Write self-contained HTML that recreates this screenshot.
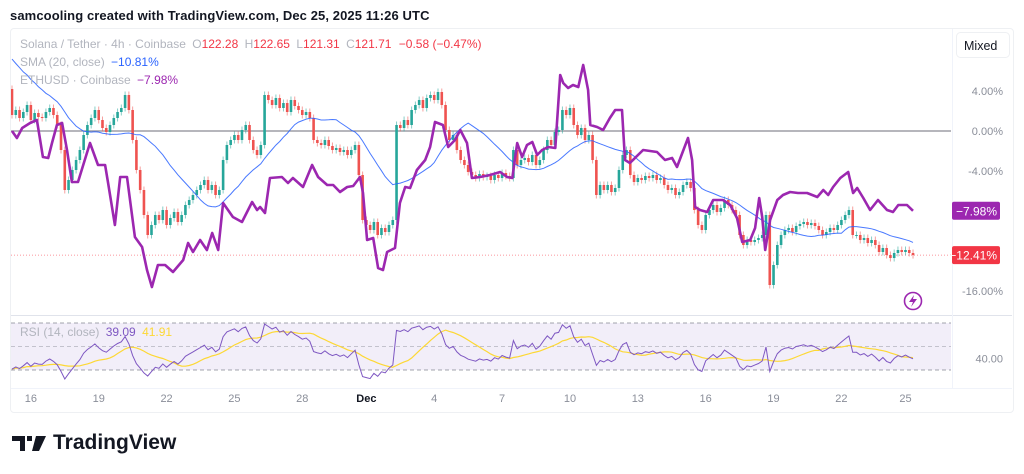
<!DOCTYPE html>
<html><head><meta charset="utf-8">
<style>
body{margin:0;background:#fff;width:1024px;height:474px;overflow:hidden;font-family:"Liberation Sans",sans-serif;position:relative}
#hdr{position:absolute;left:10px;top:8px;font-size:13px;color:#131722;font-weight:bold;letter-spacing:0.1px}
#frame{position:absolute;left:10px;top:28px;width:1002px;height:383px;border:1px solid #eef0f3;border-radius:4px}
svg{position:absolute;left:0;top:0}
#logo{position:absolute;left:12px;top:431px;font-size:21px;font-weight:bold;color:#131722;display:flex;align-items:center;gap:7px}
</style></head><body>
<div id="hdr">samcooling created with TradingView.com, Dec 25, 2025 11:26 UTC</div>
<div id="frame"></div>
<svg id="chart" width="1024" height="474"></svg>
<div id="logo"><svg width="34" height="18" style="position:static"><path d="M0 2h13v15h-5V7H0z M15 2h5v5h-5z M24 2h10l-7 15h-7z" fill="#131722"/></svg><span>TradingView</span></div>
<script>
// ---- data (percent change) ----
const priorCloses=[11,9.5,10.5,8.8,10,8.2,9.4,7.8,8.6,7,8,6.4,7.2,5.6,6.5,4.6,5.4,3.6,4.2];
const closes=[1.6,2.1,1.3,1.9,2.6,1.1,1.8,1.4, 1.3,1.9,2.3,1.6,0.6, -1.9,-5.9,-4.9, -3.9,-2.9,-1.9, -0.4,0.6,1.3,2.1,1.1, 0.3,-0.1,0.6, 1.3,1.9,2.3,3.6, 2.1,-0.9,-3.9, -5.9,-8.4,-10.4,-9.4,
-8.4,-8.9,-7.9,-9.4,-8.7,-8.1,-9.1,-8.4, -7.4,-6.9,-6.4,-5.9,-5.4, -4.9,-5.9,-5.4,-6.4,-5.9, -2.9,-1.4,-0.9, -0.4,-0.9,0.1,0.6,-0.9,-1.9,-2.4,-1.4, 3.6,
3.1,2.6,3.3,2.3,2.8,1.9,3.1,2.5,2.1, 1.6,1.9,1.3,-0.9, -1.2,-1.4,-0.9,-1.5,-1.9,-1.7, -2.1,-1.9,-2.4,-1.9,-1.4, -4.4,-8.9,
-9.4,-9.9,-9.1,-10.4,-9.7,-10.1,-9.4,-8.9, 0.6, 0.3,1.1,0.6,2.1,2.6,3.1,2.3,3.3, 3.6,3.1,3.9, 2.6,0.1,-0.9, -0.4,-1.9,-2.9,-3.4,-4.1,
-4.4,-4.7,-4.3,-4.6,-4.5,-4.9,-4.4,-4.7,-4.2,-4.5,-4.7, -1.9,-3.4,-2.9, -2.7,-3.1,-2.4,-3.4,-2.9, -1.9,-0.9,-1.4,-0.1,0.1, 2.1,1.6,2.3,
0.6,-0.4,0.3,-0.9,-0.4, -2.9,-6.4,-5.4, -5.9,-5.4,-6.1,-5.7, -3.9,-2.4,-1.9, -4.4,-5.1,-4.7,-4.9, -4.5,-4.7,-4.4,-4.9,-4.7,
-5.4,-5.9,-5.7,-6.4,-6.1, -5.4,-5.1,-5.7, -7.9,-9.4,-9.9, -8.4,-7.9,-7.4,-8.1,-7.7, -6.9,-7.4,-7.9,-8.4, -10.4,-11.4,-10.9,
-11.1,-10.9,-10.7,-10.4, -8.4, -15.4, -13.4,-11.4,-10.4, -9.9,-9.7,-10.1,-9.5, -9.3,-9.1,-9.4,-9.2,-9.5, -9.9,-10.4,-10.1,-9.7,-9.9,
-9.4,-8.9,-8.4,-7.9, -10.4, -10.4,-10.9,-10.7,-11.2,-10.9, -11.4,-12.1,-11.7,-12.4, -12.7,-12.2,-11.9,-12.1,-11.9,-12.2,-12.41];
// ETH: [candle index, percent]
const eth=[[0,0],[1.3,-0.7],[2.7,0.3],[4.8,0.8],[6.6,1.1],[8.2,-2.6],[9.6,-2.7],[10.6,-1.2],[11.9,0.6],[13.3,0.8],[14.6,-1.9],[15.9,-5.1],[17.5,-5.1],[20.7,-1.2],[22.8,-3.4],[24.7,-3.4],[25.5,-5.2],[27.3,-9.4],[28.7,-4.6],[30.5,-4.6],[32.6,-10.6],[34.5,-11.6],[35.8,-13.9],[37.1,-15.6],[38.7,-13.4],[40.6,-13.4],[42.7,-14.1],[45.4,-12.9],[46.7,-11.2],[48,-12.1],[49.9,-10.9],[51.7,-11.9],[53.1,-10.2],[54.7,-11.9],[56,-7.2],[58.6,-8.6],[61,-9.1],[63.7,-7.1],[65,-7.9],[65.8,-7.6],[67.1,-8.2],[68.4,-4.7],[71.6,-4.6],[73.2,-5.2],[74.5,-4.7],[77.2,-5.6],[79.6,-3.4],[81.2,-4.6],[83.6,-5.4],[85.2,-5.4],[87,-6.1],[88.9,-5.6],[90.5,-5.5],[92.3,-4.6],[93.1,-6.2],[94.2,-10.9],[95.8,-10.7],[97.1,-13.7],[98.4,-13.9],[99.5,-12.1],[101.6,-11.7],[102.9,-7.2],[104.3,-5.6],[105.6,-5.7],[107.4,-3.9],[109.6,-2.9],[110.9,-1.6],[112.2,0.9],[114.3,0.6],[115.7,-1.6],[117.5,-0.9],[118.9,0.1],[120.7,-1.2],[122,-4.7],[124.2,-4.6],[126.8,-4.4],[129.5,-4.1],[131.3,-4.6],[132.7,-4.7],[134,-1.2],[135.3,-2.6],[136.6,-1.4],[138,-1.1],[139.3,-2.4],[140.6,-1.9],[142.2,-1.6],[144.1,-1.7],[145.4,5.6],[146.2,4.8],[147.5,4.3],[148.8,4.6],[150.2,4.4],[151.5,6.6],[152.8,4.1],[153.4,0.6],[155.2,0.4],[156.8,0.1],[158.6,1.3],[160,2.1],[161.8,2.1],[162.6,-2.9],[163.9,-3.2],[167.4,-1.9],[171.1,-2.1],[173.2,-2.9],[175.1,-2.7],[176.4,-3.6],[177.8,-2.2],[179.3,-0.7],[180.4,-2.9],[181.2,-7.6],[182.5,-7.9],[184.4,-8.1],[186,-6.9],[188.6,-6.9],[190.5,-7.4],[192.3,-8.7],[193.7,-11.1],[195.8,-10.9],[197.1,-9.7],[198.2,-6.7],[199,-8.6],[199.8,-11.9],[201.1,-8.9],[203,-6.9],[204.5,-6.4],[206.4,-6.1],[208.5,-6.2],[210.9,-6.2],[213.6,-6.6],[215.2,-5.9],[216.5,-6.4],[217.8,-5.6],[219.7,-4.7],[221.8,-4.1],[223.1,-6.2],[224.2,-5.7],[225.8,-6.7],[227.6,-7.9],[229.7,-6.9],[232.1,-7.9],[233.7,-8.1],[235.1,-7.4],[237.4,-7.4],[239,-7.98]];
const priceTicks=[4,0,-4,-16];
const dateLabels=["16","19","22","25","28","Dec","4","7","10","13","16","19","22","25"];
const dateCandle=[5,23,41,59,77,94,112,130,148,166,184,202,220,237];

// ---- axes ----
const X0=12, DX=3.77;
const xs=i=>X0+i*DX;
const ys=p=>131-p*10;
const yr=v=>323+(70-v)*(47/40);
const NS='http://www.w3.org/2000/svg';
const svg=document.getElementById('chart');
function mk(t,a,parent){const e=document.createElementNS(NS,t);for(const k in a)e.setAttribute(k,a[k]);(parent||svg).appendChild(e);return e;}

const defs=mk('defs',{});const cp=mk('clipPath',{id:'pc'},defs);mk('rect',{x:11,y:29,width:941,height:286},cp);
const cp2=mk('clipPath',{id:'rc'},defs);mk('rect',{x:11,y:316,width:941,height:72},cp2);

let e=mk('line',{x1:11,y1:315.5,x2:1012,y2:315.5,stroke:'#e0e3eb'});

e=mk('line',{x1:952.5,y1:29,x2:952.5,y2:388,stroke:'#f0f3fa'});
e=mk('line',{x1:11,y1:388.5,x2:1012,y2:388.5,stroke:'#f0f3fa'});

e=mk('line',{x1:11,y1:ys(0),x2:951,y2:ys(0),stroke:'#8a8a94','stroke-width':1.2});


priceTicks.forEach(p=>{const t=mk('text',{x:1003,y:ys(p)+4,'text-anchor':'end','font-size':11,fill:'#8a8e99'});t.textContent=p.toFixed(2)+'%';
});

const last=closes[closes.length-1];
e=mk('line',{x1:11,y1:ys(last),x2:951,y2:ys(last),stroke:'#f7525f','stroke-dasharray':'1 2','stroke-width':0.8,opacity:0.8});


const g=mk('g',{'clip-path':'url(#pc)'});

closes.forEach((c,i)=>{const o=i?closes[i-1]:priorCloses[priorCloses.length-1];
 const up=c>=o, col=up?'#26a69a':'#ef5350';
 const hi=Math.max(o,c)+0.35, lo=Math.min(o,c)-0.35;
 const x=xs(i);
 mk('line',{x1:x,y1:ys(hi),x2:x,y2:ys(lo),stroke:col,'stroke-width':1,opacity:0.55},g);
 const r=mk('rect',{x:x-1.3,y:ys(Math.max(o,c)),width:2.6,height:Math.max(1,Math.abs(o-c)*10),fill:col},g);
 
});
const all=priorCloses.concat(closes);const P=priorCloses.length;
let smaPts=[];
closes.forEach((c,i)=>{const j=i+P;const s=all.slice(Math.max(0,j-19),j+1);const m=s.reduce((a,b)=>a+b,0)/s.length;smaPts.push(xs(i).toFixed(1)+','+ys(m).toFixed(1));});
e=mk('polyline',{points:smaPts.join(' '),fill:'none',stroke:'#2962ff','stroke-width':1,opacity:0.85},g);

e=mk('polyline',{points:eth.map(d=>xs(d[0]).toFixed(1)+','+ys(d[1]).toFixed(1)).join(' '),fill:'none',stroke:'#9c27b0','stroke-width':2.6,'stroke-linejoin':'round'},g);


function badge(p,txt,col,name){const y=ys(p);const r=mk('rect',{x:952,y:y-9,width:48,height:18,rx:2,fill:col});
 
 const t=mk('text',{x:997,y:y+4.5,'text-anchor':'end','font-size':12,fill:'#fff'});t.textContent=txt;}
badge(eth[eth.length-1][1],'−7.98%','#9c27b0','eth-last-badge');
badge(last,'−12.41%','#f23645','price-last-badge');

e=mk('circle',{cx:913,cy:301,r:8.5,fill:'none',stroke:'#9c27b0','stroke-width':1.6});

mk('path',{d:'M914 295 L909 302 L913 302 L911 307 L917 299 L913 299 Z',fill:'#9c27b0'});

// RSI pane
e=mk('rect',{x:11,y:yr(70),width:940,height:yr(30)-yr(70),fill:'#7e57c2','fill-opacity':0.1});

[70,50,30].forEach(v=>mk('line',{x1:11,y1:yr(v),x2:951,y2:yr(v),stroke:'#787b86','stroke-dasharray':'4 3','stroke-width':0.8,opacity:v==50?0.5:0.9}));
let ag=0,al=0,rsi=[];
for(let j=1;j<all.length;j++){const d=(all[j]-all[j-1]);const gn=Math.max(d,0),ls=Math.max(-d,0);
 if(j<=14){ag+=gn/14;al+=ls/14;}else{ag=(ag*13+gn)/14;al=(al*13+ls)/14;}
 if(j>=P){rsi.push(al===0?100:100-100/(1+ag/al));}}
rsi=rsi.slice(-closes.length);
const rsiMa=rsi.map((v,i)=>{const s=rsi.slice(Math.max(0,i-13),i+1);return s.reduce((a,b)=>a+b,0)/s.length;});
const rg=mk('g',{'clip-path':'url(#rc)'});
e=mk('polyline',{points:rsiMa.map((v,i)=>xs(i).toFixed(1)+','+yr(v).toFixed(1)).join(' '),fill:'none',stroke:'#fdd835','stroke-width':1.2},rg);

e=mk('polyline',{points:rsi.map((v,i)=>xs(i).toFixed(1)+','+yr(v).toFixed(1)).join(' '),fill:'none',stroke:'#7e57c2','stroke-width':1},rg);

e=mk('text',{x:1003,y:yr(40)+4,'text-anchor':'end','font-size':11,fill:'#8a8e99'});e.textContent='40.00';


dateLabels.forEach((l,k)=>{const t=mk('text',{x:xs(dateCandle[k]),y:402,'text-anchor':'middle','font-size':11,fill:l=='Dec'?'#131722':'#8a8e99','font-weight':l=='Dec'?'bold':'normal'});t.textContent=l;
 });

function txt(x,y,s,col,name,size){const t=mk('text',{x:x,y:y,'font-size':size||11.5,fill:col});t.textContent=s;if(name){}return t;}
const l1=mk('text',{x:20,y:48,'font-size':12,fill:'#b2b5be'});

l1.innerHTML='Solana / Tether · 4h · Coinbase  <tspan dx="3">O</tspan><tspan fill="#f23645">122.28</tspan> <tspan dx="3">H</tspan><tspan fill="#f23645">122.65</tspan> <tspan dx="3">L</tspan><tspan fill="#f23645">121.31</tspan> <tspan dx="3">C</tspan><tspan fill="#f23645">121.71</tspan> <tspan dx="4" fill="#f23645">−0.58 (−0.47%)</tspan>';
const l2=mk('text',{x:20,y:66,'font-size':12,fill:'#b2b5be'});

l2.innerHTML='SMA (20, close) <tspan dx="3" fill="#2962ff">−10.81%</tspan>';
const l3=mk('text',{x:20,y:84,'font-size':12,fill:'#b2b5be'});

l3.innerHTML='ETHUSD · Coinbase <tspan dx="3" fill="#9c27b0">−7.98%</tspan>';
const l4=mk('text',{x:20,y:336,'font-size':12,fill:'#b2b5be'});

l4.innerHTML='RSI (14, close) <tspan dx="3" fill="#7e57c2">39.09</tspan> <tspan dx="3" fill="#fdd835">41.91</tspan>';

e=mk('rect',{x:956.5,y:32.5,width:53,height:25,rx:4,fill:'#fff',stroke:'#eef0f3'});

txt(964,50,'Mixed','#131722',null,12.5);
</script>
</body></html>
